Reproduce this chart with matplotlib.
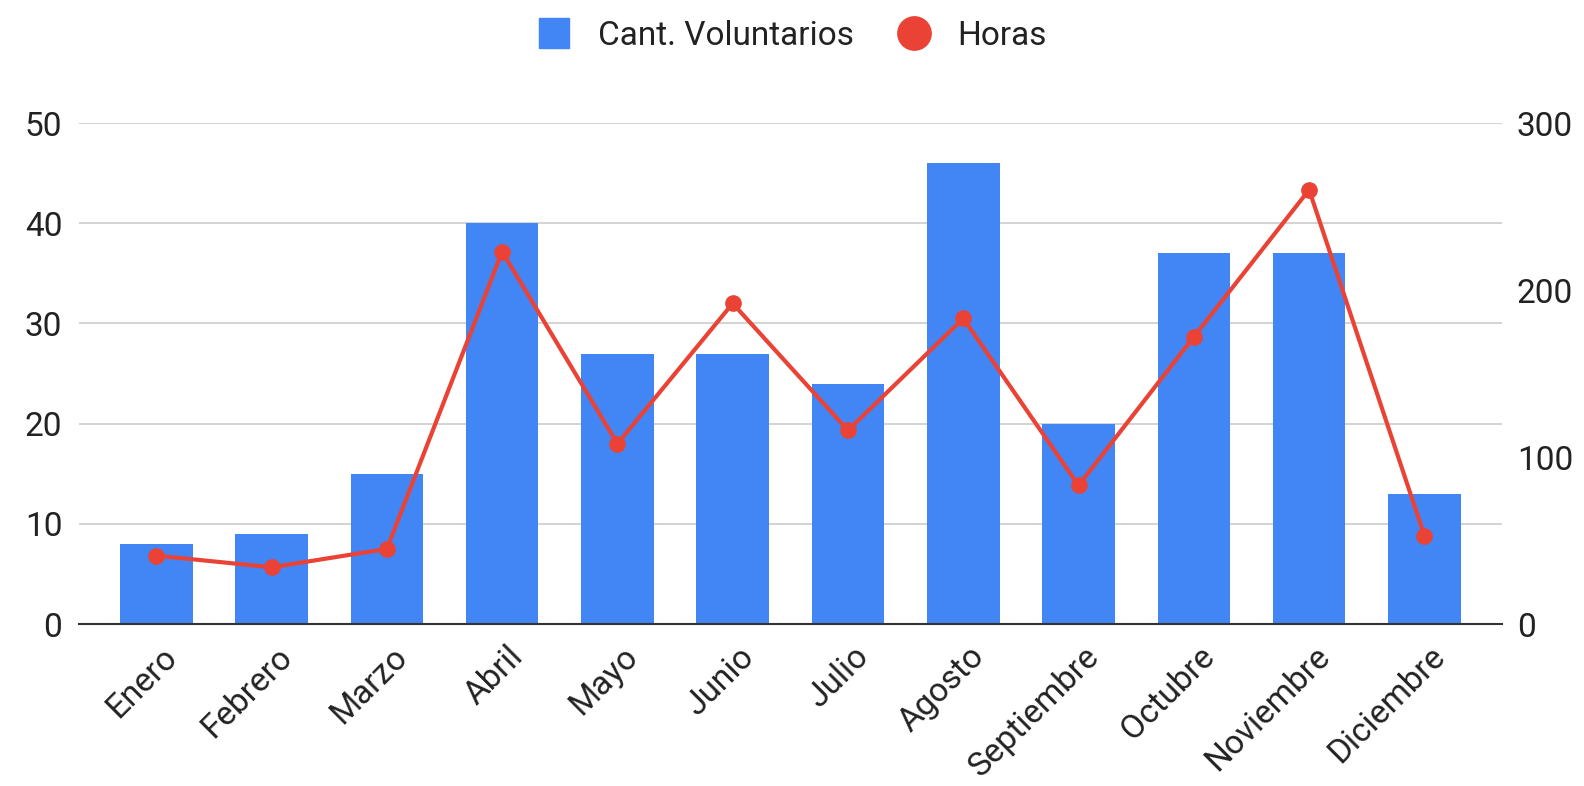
import matplotlib
matplotlib.use("Agg")
import matplotlib.pyplot as plt
import matplotlib.transforms as mtransforms
from matplotlib.lines import Line2D
import numpy as np

meses = ["Enero", "Febrero", "Marzo", "Abril", "Mayo", "Junio", "Julio",
         "Agosto", "Septiembre", "Octubre", "Noviembre", "Diciembre"]
voluntarios = [8, 9, 15, 40, 27, 27, 24, 46, 20, 37, 37, 13]
horas = [41, 34, 45, 223, 108, 192, 116, 183, 83, 172, 260, 53]
left_ticks = [0, 10, 20, 30, 40, 50]
right_ticks = [0, 100, 200, 300]

plt.rcParams['font.family'] = ['Roboto', 'DejaVu Sans']
BLUE = "#4285F4"
RED = "#EA4335"
TXT = "#222222"
FS = 24

fig = plt.figure(figsize=(15.84, 7.86), dpi=100)
ax = fig.add_axes([0.0499, 0.206, 0.8981, 0.6375])
ax2 = ax.twinx()

x = np.arange(len(meses))
ax.bar(x, voluntarios, width=0.63, color=BLUE, zorder=2)
ax.set_ylim(0, 50)
ax.set_xlim(-0.67, 11.67)
ax.set_yticks(left_ticks)
ax.grid(axis='y', color='#cccccc', linewidth=1.2, zorder=0)
ax.set_axisbelow(True)
for s in ['top', 'right', 'left']:
    ax.spines[s].set_visible(False)
ax.spines['bottom'].set_color('#333333')
ax.spines['bottom'].set_linewidth(1.5)
ax.spines['bottom'].set_zorder(3)
ax.tick_params(axis='y', length=0, labelsize=FS, labelcolor=TXT, pad=12)
ax.tick_params(axis='x', length=0, labelsize=FS, labelcolor=TXT, pad=20)
ax.set_xticks(x)
ax.set_xticklabels(meses, rotation=45, ha='right', va='center',
                   rotation_mode='anchor')
offset = mtransforms.ScaledTranslation(16 / 100, 0, fig.dpi_scale_trans)
for lbl in ax.get_xticklabels():
    lbl.set_transform(lbl.get_transform() + offset)

ax2.plot(x, horas, color=RED, linewidth=3, marker='o', markersize=11, zorder=4)
ax2.set_ylim(0, 300)
ax2.set_yticks(right_ticks)
for s in ['top', 'right', 'left', 'bottom']:
    ax2.spines[s].set_visible(False)
ax2.tick_params(axis='y', length=0, labelsize=FS, labelcolor=TXT, pad=11)

handles = [
    Line2D([], [], linestyle='none', marker='s', markersize=22, color=BLUE),
    Line2D([], [], linestyle='none', marker='o', markersize=24, color=RED),
]
fig.legend(handles, ["Cant. Voluntarios", "Horas"], loc='center',
           bbox_to_anchor=(0.5, 0.954), ncol=2, frameon=False, fontsize=FS,
           labelcolor=TXT, handlelength=1.0, handletextpad=0.8,
           columnspacing=1.3)

fig.savefig("out.png", dpi=100, facecolor='white')
